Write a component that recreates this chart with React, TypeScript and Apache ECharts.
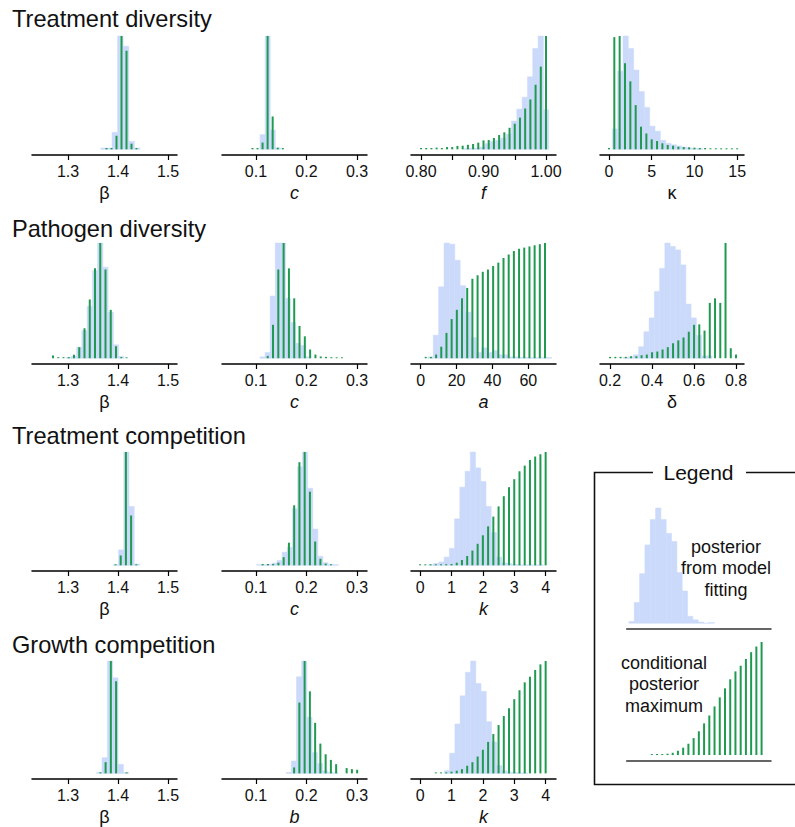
import React, { useEffect, useRef } from "react";
import * as echarts from "echarts";

// ---------- data (heights normalised to the panel maximum) ----------
// Row 1: Treatment diversity
const r1BetaBlue = [0.012, 0.012, 0.15, 1.0, 0.91, 0.07, 0.012];
const r1BetaGreen = [0.012, 0.012, 0.12, 1.0, 0.87, 0.05, 0.012];
const r1CBlue = [0.13, 1.0, 0.17, 0.012];
const r1CGreen = [0.012, 0.012, 0.06, 1.0, 0.29, 0.015, 0.012];
const r1FBlue = [0.008, 0.01, 0.012, 0.02, 0.05, 0.07, 0.08, 0.1, 0.135, 0.25, 0.355, 0.46, 0.64, 0.89, 1.0, 0.35];
const r1FGreen = [0.012, 0.012, 0.012, 0.015, 0.012, 0.02, 0.02, 0.03, 0.032, 0.04, 0.047, 0.059, 0.079, 0.082, 0.1, 0.126, 0.15, 0.19, 0.226, 0.28, 0.36, 0.44, 0.57, 0.73, 1.0];
const r1KappaBlue = [0.18, 0.69, 1.0, 0.89, 0.7, 0.51, 0.37, 0.205, 0.16, 0.08, 0.053, 0.04, 0.03, 0.02, 0.012, 0.008, 0.005];
const r1KappaGreen = [0.012, 0.99, 1.0, 0.76, 0.6, 0.39, 0.2, 0.14, 0.088, 0.073, 0.053, 0.038, 0.032, 0.023, 0.02, 0.018, 0.015, 0.012, 0.012, 0.009, 0.009, 0.009, 0.009, 0.009, 0.009];
// Row 2: Pathogen diversity
const r2BetaBlue = [0.006, 0.017, 0.096, 0.24, 0.45, 0.76, 1.0, 0.79, 0.4, 0.117, 0.015];
const r2BetaGreen = [0.023, 0.009, 0.009, 0.01, 0.03, 0.096, 0.26, 0.51, 0.78, 1.0, 0.77, 0.42, 0.105, 0.01, 0.008];
const r2CBlue = [0.012, 0.05, 0.54, 1.0, 1.0, 0.52, 0.31, 0.13, 0.11, 0.012];
const r2CGreen = [0.02, 0.29, 0.77, 1.0, 0.78, 0.52, 0.28, 0.19, 0.076, 0.032, 0.015, 0.012, 0.009, 0.008, 0.008];
const r2ABlue = [0.01, 0.2, 0.62, 1.0, 0.99, 0.85, 0.63, 0.4, 0.18, 0.05, 0.09, 0.05, 0.067, 0.03, 0.03, 0.012, 0.012, 0.008, 0.006, 0.004, 0.004, 0.004, 0.006];
const r2AGreen = [0.012, 0.012, 0.032, 0.1, 0.22, 0.34, 0.42, 0.52, 0.61, 0.69, 0.72, 0.75, 0.77, 0.8, 0.83, 0.87, 0.9, 0.93, 0.95, 0.96, 0.97, 0.98, 0.99, 1.0];
const r2DeltaBlue = [0.006, 0.012, 0.03, 0.1, 0.23, 0.35, 0.58, 0.78, 1.0, 0.97, 0.94, 0.81, 0.47, 0.35, 0.2, 0.02, 0.02];
const r2DeltaGreen = [0.012, 0.012, 0.012, 0.012, 0.017, 0.017, 0.026, 0.032, 0.052, 0.058, 0.076, 0.096, 0.13, 0.155, 0.18, 0.23, 0.29, 0.294, 0.24, 0.48, 0.52, 0.48, 1.0, 0.087, 0.032];
// Row 3: Treatment competition
const r3BetaBlue = [0.006, 0.136, 1.0, 0.52, 0.012];
const r3BetaGreen = [0.009, 0.087, 1.0, 0.44, 0.009];
const r3CBlue = [0.006, 0.006, 0.009, 0.02, 0.043, 0.116, 0.16, 0.5, 0.87, 1.0, 0.68, 0.32, 0.08, 0.023, 0.009, 0.006];
const r3CGreen = [0.012, 0.012, 0.012, 0.023, 0.072, 0.2, 0.53, 0.91, 1.0, 0.65, 0.21, 0.058, 0.015, 0.009];
const r3KBlue = [0.006, 0.017, 0.03, 0.073, 0.15, 0.41, 0.69, 0.83, 1.0, 0.86, 0.74, 0.52, 0.29, 0.073, 0.023, 0.017, 0.009, 0.004, 0.004, 0.004, 0.002, 0.004];
const r3KGreen = [0.009, 0.009, 0.009, 0.009, 0.009, 0.01, 0.012, 0.023, 0.047, 0.082, 0.13, 0.19, 0.265, 0.344, 0.43, 0.52, 0.61, 0.69, 0.76, 0.83, 0.88, 0.93, 0.96, 0.98, 1.0];
// Row 4: Growth competition
const r4BetaBlue = [0.01, 0.14, 1.0, 0.85, 0.08, 0.008];
const r4BetaGreen = [0.009, 0.1, 1.0, 0.82, 0, 0.009];
const r4BBlue = [0.009, 0.11, 0.86, 1.0, 0.5, 0.185, 0.088, 0.024, 0.009, 0.004];
const r4BGreen = [0.053, 0.63, 1.0, 0.73, 0.45, 0.265, 0.17, 0.12, 0.082, 0, 0.047, 0.038, 0.032];
const r4KBlue = [0.024, 0.18, 0.44, 0.69, 0.9, 1.0, 0.8, 0.73, 0.46, 0.28, 0.07, 0.024, 0.009, 0.009, 0.004, 0.004];
const r4KGreen = [0.009, 0.009, 0.009, 0.015, 0.024, 0.038, 0.068, 0.1, 0.15, 0.21, 0.28, 0.35, 0.43, 0.51, 0.58, 0.66, 0.74, 0.81, 0.86, 0.92, 0.97, 1.0];
// Legend samples
const legendBlue = [0.015, 0.18, 0.43, 0.68, 0.9, 1.0, 0.9, 0.78, 0.71, 0.44, 0.28, 0.06, 0.03, 0.01, 0, 0.006];
const legendGreen = [0.009, 0.009, 0.009, 0.012, 0.02, 0.038, 0.065, 0.1, 0.15, 0.21, 0.28, 0.35, 0.43, 0.51, 0.59, 0.67, 0.74, 0.79, 0.85, 0.91, 0.96, 1.0];

// bin grids: [first bin start, bin width] and bar grids: [first position, step]
const r1BetaBins = [1.3656, 0.0112]; const r1BetaGrid = [1.377, 0.01];
const r1CBins = [0.108, 0.0101]; const r1CGrid = [0.093, 0.01];
const r1FBins = [0.8683, 0.0085]; const r1FGrid = [0.8, 0.0083333];
const r1KappaBins = [0.39, 0.625]; const r1KappaGrid = [0, 0.625];
const r2BetaBins = [1.2962, 0.0105]; const r2BetaGrid = [1.27, 0.0105];
const r2CBins = [0.1079, 0.0101]; const r2CGrid = [0.1232, 0.0105];
const r2ABins = [4, 3]; const r2AGrid = [2.8, 2.89];
const r2DeltaBins = [0.261, 0.025]; const r2DeltaGrid = [0.2, 0.025];
const r3BetaBins = [1.3905, 0.0105]; const r3BetaGrid = [1.395, 0.0104];
const r3CBins = [0.1013, 0.0101]; const r3CGrid = [0.1132, 0.0104];
const r3KBins = [0.265, 0.16667]; const r3KGrid = [0, 0.16667];
const r4BetaBins = [1.3573, 0.0107]; const r4BetaGrid = [1.3647, 0.0105];
const r4BBins = [0.1596, 0.0103]; const r4BGrid = [0.1755, 0.0104];
const r4KBins = [0.775, 0.16667]; const r4KGrid = [0.5, 0.16667];
const legendBins = [0.07, 0.17]; const legendGrid = [0.8, 0.16667];

// tick values and tick labels
const betaTicks = [1.3, 1.4, 1.5];
const cTicks = [0.1, 0.2, 0.3];
const fTicks = [0.8, 0.85, 0.9, 0.95, 1.0];
const fLabels = [0.8, 0.9, 1.0];
const kappaTicks = [0, 5, 10, 15];
const aTicks = [0, 20, 40, 60];
const deltaTicks = [0.2, 0.4, 0.6, 0.8];
const kTicks = [0, 1, 2, 3, 4];

const rowTitles = ["Treatment diversity", "Pathogen diversity", "Treatment competition", "Growth competition"];

// ---------- layout / style ----------
const FONT = '"Liberation Sans", Arial, Helvetica, sans-serif';
const BLUE = "#cbdafa";
const GREEN = "#1f9a50";
const colLeft = [32, 222, 411, 600];
const colWidth = [145, 145, 145, 144];
const rowTop = [36, 243, 452, 661];
const rowAxis = [155, 364, 571, 779];
const titleY = [19.3, 228.7, 436, 644.7];

type AxisDef = { min: number; max: number; ticks: number[]; labels: number[]; dec: number };
const betaAxis: AxisDef = { min: 1.228, max: 1.518, ticks: betaTicks, labels: betaTicks, dec: 1 };
const cAxis: AxisDef = { min: 0.0327, max: 0.3198, ticks: cTicks, labels: cTicks, dec: 1 };
const fAxis: AxisDef = { min: 0.784, max: 1.016, ticks: fTicks, labels: fLabels, dec: 2 };
const kappaAxis: AxisDef = { min: -1.05, max: 15.8, ticks: kappaTicks, labels: kappaTicks, dec: 0 };
const aAxis: AxisDef = { min: -5.4, max: 75.4, ticks: aTicks, labels: aTicks, dec: 0 };
const deltaAxis: AxisDef = { min: 0.152, max: 0.838, ticks: deltaTicks, labels: deltaTicks, dec: 1 };
const kAxis: AxisDef = { min: -0.29, max: 4.33, ticks: kTicks, labels: kTicks, dec: 0 };

type Panel = {
  row: number; col: number; axis: AxisDef; name: string; italic: boolean;
  bins: number[]; blue: number[]; grid: number[]; green: number[];
};

const panels: Panel[] = [
  { row: 0, col: 0, axis: betaAxis, name: "β", italic: false, bins: r1BetaBins, blue: r1BetaBlue, grid: r1BetaGrid, green: r1BetaGreen },
  { row: 0, col: 1, axis: cAxis, name: "c", italic: true, bins: r1CBins, blue: r1CBlue, grid: r1CGrid, green: r1CGreen },
  { row: 0, col: 2, axis: fAxis, name: "f", italic: true, bins: r1FBins, blue: r1FBlue, grid: r1FGrid, green: r1FGreen },
  { row: 0, col: 3, axis: kappaAxis, name: "κ", italic: false, bins: r1KappaBins, blue: r1KappaBlue, grid: r1KappaGrid, green: r1KappaGreen },
  { row: 1, col: 0, axis: betaAxis, name: "β", italic: false, bins: r2BetaBins, blue: r2BetaBlue, grid: r2BetaGrid, green: r2BetaGreen },
  { row: 1, col: 1, axis: cAxis, name: "c", italic: true, bins: r2CBins, blue: r2CBlue, grid: r2CGrid, green: r2CGreen },
  { row: 1, col: 2, axis: aAxis, name: "a", italic: true, bins: r2ABins, blue: r2ABlue, grid: r2AGrid, green: r2AGreen },
  { row: 1, col: 3, axis: deltaAxis, name: "δ", italic: false, bins: r2DeltaBins, blue: r2DeltaBlue, grid: r2DeltaGrid, green: r2DeltaGreen },
  { row: 2, col: 0, axis: betaAxis, name: "β", italic: false, bins: r3BetaBins, blue: r3BetaBlue, grid: r3BetaGrid, green: r3BetaGreen },
  { row: 2, col: 1, axis: cAxis, name: "c", italic: true, bins: r3CBins, blue: r3CBlue, grid: r3CGrid, green: r3CGreen },
  { row: 2, col: 2, axis: kAxis, name: "k", italic: true, bins: r3KBins, blue: r3KBlue, grid: r3KGrid, green: r3KGreen },
  { row: 3, col: 0, axis: betaAxis, name: "β", italic: false, bins: r4BetaBins, blue: r4BetaBlue, grid: r4BetaGrid, green: r4BetaGreen },
  { row: 3, col: 1, axis: cAxis, name: "b", italic: true, bins: r4BBins, blue: r4BBlue, grid: r4BGrid, green: r4BGreen },
  { row: 3, col: 2, axis: kAxis, name: "k", italic: true, bins: r4KBins, blue: r4KBlue, grid: r4KGrid, green: r4KGreen },
];

const binsData = (b: number[], hs: number[]) => hs.map((h, i) => [b[0] + i * b[1], b[0] + (i + 1) * b[1], h]);
const barsData = (g: number[], hs: number[]) => hs.map((h, i) => [g[0] + i * g[1], h]);

const blueRender = (_p: any, api: any) => {
  const a = api.coord([api.value(0), api.value(2)]);
  const b = api.coord([api.value(1), 0]);
  return {
    type: "rect",
    shape: { x: a[0], y: a[1], width: b[0] - a[0], height: b[1] - a[1] },
    style: { fill: BLUE, stroke: BLUE, lineWidth: 0.5 },
  };
};
const greenRender = (_p: any, api: any) => {
  const a = api.coord([api.value(0), api.value(1)]);
  const b = api.coord([api.value(0), 0]);
  return {
    type: "rect",
    shape: { x: a[0] - 1, y: a[1], width: 2, height: b[1] - a[1] },
    style: { fill: GREEN },
  };
};

const YMIN = -0.05;

function buildOption() {
  const grid: any[] = [];
  const xAxis: any[] = [];
  const yAxis: any[] = [];
  const series: any[] = [];

  const addSeries = (idx: number, blue: any[], green: any[]) => {
    series.push({
      type: "custom", xAxisIndex: idx, yAxisIndex: idx, renderItem: blueRender,
      encode: { x: [0, 1], y: 2 }, data: blue, silent: true, clip: false,
    });
    series.push({
      type: "custom", xAxisIndex: idx, yAxisIndex: idx, renderItem: greenRender,
      encode: { x: 0, y: 1 }, data: green, silent: true, clip: false,
    });
  };

  panels.forEach((p, i) => {
    grid.push({
      left: colLeft[p.col], width: colWidth[p.col], top: rowTop[p.row],
      height: rowAxis[p.row] - rowTop[p.row], containLabel: false,
    });
    xAxis.push({
      gridIndex: i, type: "value", min: p.axis.min, max: p.axis.max,
      axisLine: { show: true, onZero: false, lineStyle: { color: "#000", width: 1.5 } },
      axisTick: { show: true, length: 5, customValues: p.axis.ticks, lineStyle: { color: "#000", width: 1.2 } },
      axisLabel: {
        show: true, customValues: p.axis.labels, margin: 8, fontSize: 16, color: "#111", fontFamily: FONT,
        formatter: (v: number) => v.toFixed(p.axis.dec),
      },
      splitLine: { show: false },
      name: p.name, nameLocation: "middle", nameGap: 29,
      nameTextStyle: { fontSize: 18, color: "#111", fontFamily: FONT, fontStyle: p.italic ? "italic" : "normal" },
    });
    yAxis.push({ gridIndex: i, type: "value", min: YMIN, max: 1, show: false });
    addSeries(i, binsData(p.bins, p.blue), barsData(p.grid, p.green));
  });

  // legend sample panels
  const legendPanels = [
    { top: 508, axisY: 629, blue: binsData(legendBins, legendBlue), green: [] as any[] },
    { top: 642, axisY: 760.7, blue: [] as any[], green: barsData(legendGrid, legendGreen) },
  ];
  legendPanels.forEach((lp) => {
    const idx = grid.length;
    grid.push({ left: 626.7, width: 144.3, top: lp.top, height: lp.axisY - lp.top });
    xAxis.push({
      gridIndex: idx, type: "value", min: 0, max: 4.6,
      axisLine: { show: true, onZero: false, lineStyle: { color: "#333", width: 1.5 } },
      axisTick: { show: false }, axisLabel: { show: false }, splitLine: { show: false },
    });
    yAxis.push({ gridIndex: idx, type: "value", min: YMIN, max: 1, show: false });
    addSeries(idx, lp.blue, lp.green);
  });

  const graphic: any[] = rowTitles.map((t, i) => ({
    type: "text", x: 12, y: titleY[i],
    style: { text: t, fontSize: 23.6, fontFamily: FONT, fill: "#111", align: "left", verticalAlign: "middle" },
  }));
  graphic.push({
    type: "polyline",
    shape: { points: [[653, 472.5], [594.5, 472.5], [594.5, 784.5], [800, 784.5]] },
    style: { stroke: "#111", lineWidth: 1.6, fill: null },
  });
  graphic.push({
    type: "line", shape: { x1: 746, y1: 472.5, x2: 800, y2: 472.5 },
    style: { stroke: "#111", lineWidth: 1.6 },
  });
  graphic.push({
    type: "text", x: 698.5, y: 472.7,
    style: { text: "Legend", fontSize: 21, fontFamily: FONT, fill: "#111", align: "center", verticalAlign: "middle" },
  });
  const legendLines1 = ["posterior", "from model", "fitting"];
  const legendLines2 = ["conditional", "posterior", "maximum"];
  legendLines1.forEach((t, i) => graphic.push({
    type: "text", x: 726, y: 546.5 + i * 21.7,
    style: { text: t, fontSize: 18, fontFamily: FONT, fill: "#111", align: "center", verticalAlign: "middle" },
  }));
  legendLines2.forEach((t, i) => graphic.push({
    type: "text", x: 664, y: 663 + i * 21.4,
    style: { text: t, fontSize: 18, fontFamily: FONT, fill: "#111", align: "center", verticalAlign: "middle" },
  }));

  return { animation: false, backgroundColor: "#fff", grid, xAxis, yAxis, series, graphic };
}

export default function App() {
  const ref = useRef<HTMLDivElement>(null);
  useEffect(() => {
    if (!ref.current) return;
    const chart = echarts.init(ref.current, undefined, { renderer: "svg" });
    chart.setOption(buildOption() as any);
    return () => chart.dispose();
  }, []);
  return (
    <div
      ref={ref}
      style={{ position: "absolute", left: 0, top: 0, width: 795, height: 827, background: "#fff" }}
    />
  );
}
